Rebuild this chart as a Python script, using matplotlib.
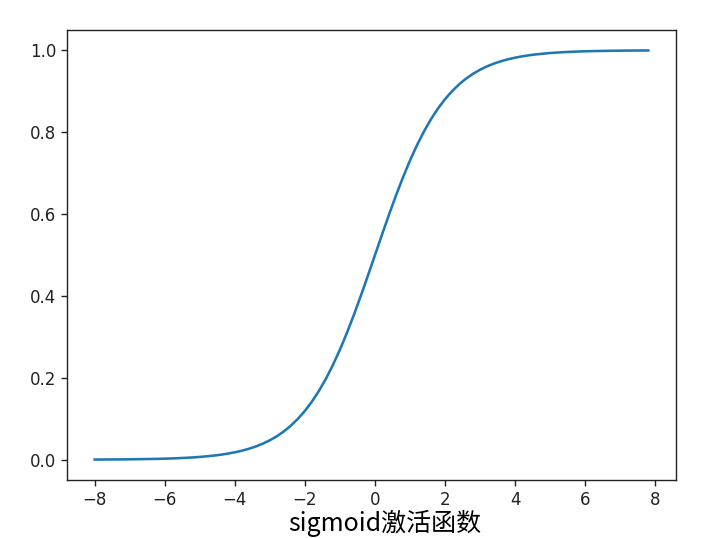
import matplotlib
matplotlib.use('Agg')
import matplotlib.pyplot as plt

# valors llegits de la corba (x de -8 a 7.8, pas 0.2)
x_vals = [-8.0, -7.8, -7.6, -7.4, -7.2, -7.0, -6.8, -6.6, -6.4, -6.2,
          -6.0, -5.8, -5.6, -5.4, -5.2, -5.0, -4.8, -4.6, -4.4, -4.2,
          -4.0, -3.8, -3.6, -3.4, -3.2, -3.0, -2.8, -2.6, -2.4, -2.2,
          -2.0, -1.8, -1.6, -1.4, -1.2, -1.0, -0.8, -0.6, -0.4, -0.2,
          0.0, 0.2, 0.4, 0.6, 0.8, 1.0, 1.2, 1.4, 1.6, 1.8,
          2.0, 2.2, 2.4, 2.6, 2.8, 3.0, 3.2, 3.4, 3.6, 3.8,
          4.0, 4.2, 4.4, 4.6, 4.8, 5.0, 5.2, 5.4, 5.6, 5.8,
          6.0, 6.2, 6.4, 6.6, 6.8, 7.0, 7.2, 7.4, 7.6, 7.8]

y_vals = [0.0003, 0.0004, 0.0005, 0.0006, 0.0007, 0.0009, 0.0011, 0.0014, 0.0017, 0.0020,
          0.0025, 0.0030, 0.0037, 0.0045, 0.0055, 0.0067, 0.0082, 0.0100, 0.0121, 0.0148,
          0.0180, 0.0219, 0.0266, 0.0323, 0.0392, 0.0474, 0.0573, 0.0691, 0.0832, 0.0998,
          0.1192, 0.1419, 0.1680, 0.1978, 0.2315, 0.2689, 0.3100, 0.3543, 0.4013, 0.4502,
          0.5000, 0.5498, 0.5987, 0.6457, 0.6900, 0.7311, 0.7685, 0.8022, 0.8320, 0.8581,
          0.8808, 0.9002, 0.9168, 0.9309, 0.9427, 0.9526, 0.9608, 0.9677, 0.9734, 0.9781,
          0.9820, 0.9852, 0.9879, 0.9900, 0.9918, 0.9933, 0.9945, 0.9955, 0.9963, 0.9970,
          0.9975, 0.9980, 0.9983, 0.9986, 0.9989, 0.9991, 0.9993, 0.9994, 0.9995, 0.9996]

label_text = 'sigmoid激活函数'

fig = plt.figure(figsize=(7.03, 5.38), dpi=100)
ax = fig.add_axes([67 / 703, 58 / 538, 609 / 703, 450 / 538])

ax.plot(x_vals, y_vals, color='#1f77b4', linewidth=1.85)

ax.tick_params(labelsize=12, length=4.3, width=1.0, colors='#222222')
for sp in ax.spines.values():
    sp.set_linewidth(1.0)
    sp.set_color('#222222')

# etiqueta a baix, ajustada perquè no quedi tallada
ax.set_xlabel(label_text, fontsize=18, x=0.522, labelpad=1,
              family=['Noto Sans CJK SC', 'DejaVu Sans'])

fig.savefig('out.png', dpi=100)
